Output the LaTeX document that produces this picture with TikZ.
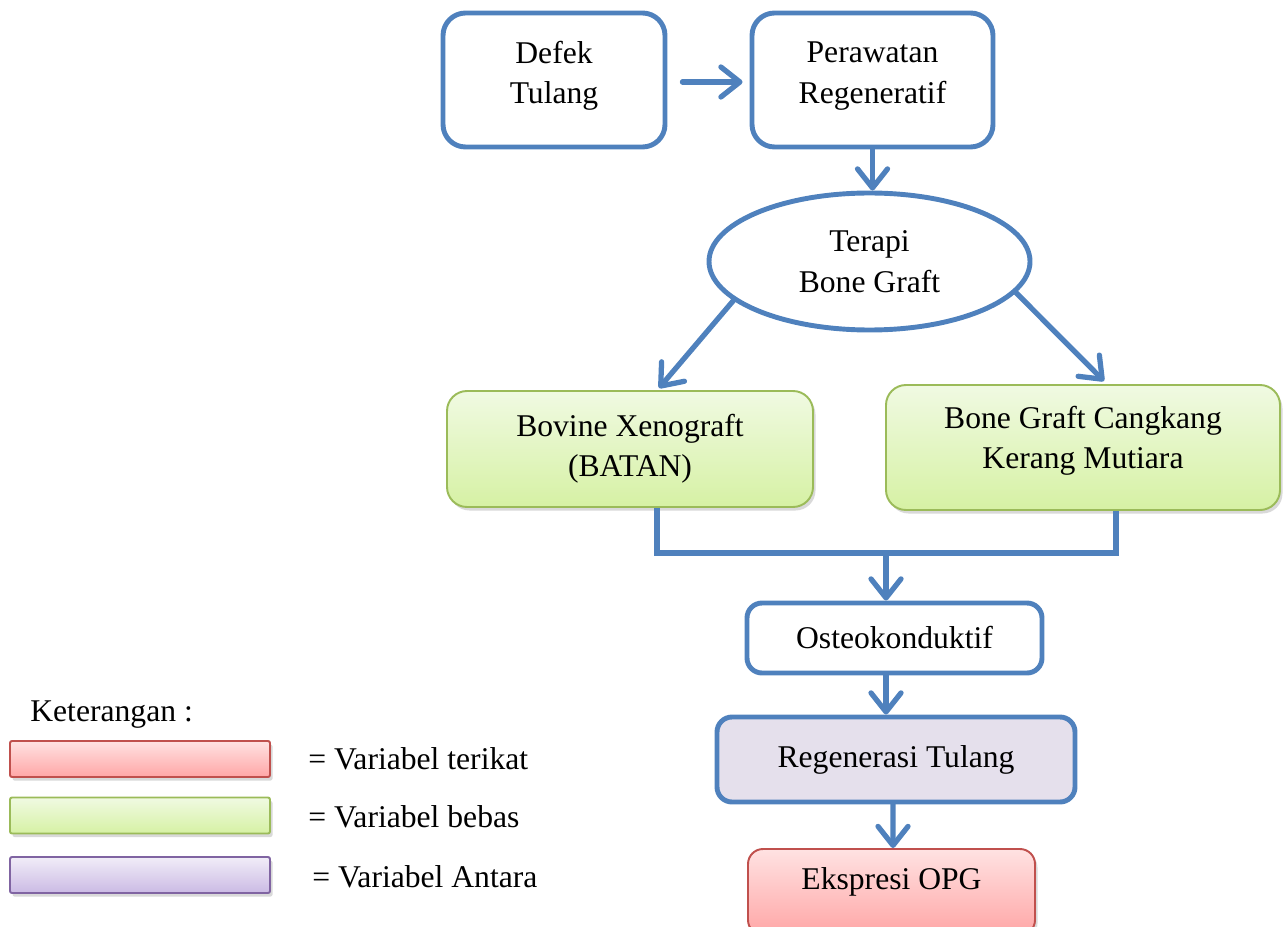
\documentclass[tikz,border=0pt]{standalone}
\usepackage{fontspec}
\setmainfont{Liberation Serif}
\usetikzlibrary{shapes.geometric,arrows.meta,shadows,calc}

\definecolor{birugaris}{RGB}{79,129,189}
\definecolor{hijaugaris}{RGB}{155,187,89}
\definecolor{hijauatas}{RGB}{240,250,226}
\definecolor{hijaubawah}{RGB}{214,241,164}
\definecolor{merahgaris}{RGB}{192,80,77}
\definecolor{merahatas}{RGB}{255,226,226}
\definecolor{merahbawah}{RGB}{255,166,166}
\definecolor{unguGaris}{RGB}{128,100,162}
\definecolor{unguatas}{RGB}{241,237,248}
\definecolor{ungubawah}{RGB}{203,186,228}
\definecolor{unguisi}{RGB}{229,224,236}

\begin{document}
\begin{tikzpicture}[
    font=\fontsize{18}{23}\selectfont,
    panah/.style={draw=birugaris, line width=3pt, line cap=round,
        -{Straight Barb[length=3.8mm,width=6mm,round]}},
    garis/.style={draw=birugaris, line width=3pt},
    kotakbiru/.style={draw=birugaris, line width=2.8pt, fill=white,
        rounded corners=0.45cm, align=center, inner sep=0pt},
    kotakhijau/.style={draw=hijaugaris, line width=1.1pt, rounded corners=0.4cm,
        top color=hijauatas, bottom color=hijaubawah, align=center, inner sep=0pt,
        drop shadow={shadow xshift=0.05cm, shadow yshift=-0.07cm, opacity=0.3}},
    kotakmerah/.style={draw=merahgaris, line width=1.1pt, rounded corners=0.3cm,
        top color=merahatas, bottom color=merahbawah, align=center, inner sep=0pt,
        drop shadow={shadow xshift=0.05cm, shadow yshift=-0.07cm, opacity=0.3}},
    ketbox/.style={line width=1.1pt, rounded corners=0.04cm, minimum width=5.2cm,
        minimum height=0.72cm, inner sep=0pt,
        drop shadow={shadow xshift=0.05cm, shadow yshift=-0.07cm, opacity=0.3}},
    ketteks/.style={anchor=west, inner sep=0pt}
]
    % Ukuran gambar
    \useasboundingbox (0,0) rectangle (25.7,-18.54);

    % Kotak-kotak alur utama
    \node[kotakbiru, minimum width=4.44cm, minimum height=2.68cm, text depth=0.3cm] (defek) at (11.08,-1.6) {Defek\\Tulang};
    \node[kotakbiru, minimum width=4.82cm, minimum height=2.68cm, text depth=0.3cm] (perawatan) at (17.45,-1.6) {Perawatan\\Regeneratif};
    \node[ellipse, draw=birugaris, line width=2.8pt, minimum width=6.42cm, minimum height=2.74cm,
        align=center, inner sep=0pt] (terapi) at (17.39,-5.23) {Terapi\\Bone Graft};
    \node[kotakhijau, minimum width=7.32cm, minimum height=2.32cm] (bovine) at (12.6,-8.98) {Bovine Xenograft\\(BATAN)};
    \node[kotakhijau, minimum width=7.88cm, minimum height=2.5cm, text depth=0.4cm] (kerang) at (21.66,-8.95) {Bone Graft Cangkang\\Kerang Mutiara};
    \node[kotakbiru, rounded corners=0.3cm, minimum width=5.9cm, minimum height=1.4cm] (osteo) at (17.89,-12.76) {Osteokonduktif};
    \node[kotakbiru, fill=unguisi, rounded corners=0.3cm, minimum width=7.16cm, minimum height=1.7cm] (regenerasi) at (17.92,-15.19) {Regenerasi Tulang};
    \node[kotakmerah, minimum width=5.74cm, minimum height=1.72cm, text height=0.45cm, text depth=0.55cm] (opg) at (17.83,-17.84) {Ekspresi OPG};

    % Panah penghubung
    \draw[panah] ($(defek.east)+(0.3,-0.04)$) -- ($(perawatan.west)+(-0.14,-0.04)$);
    \draw[panah] (perawatan.south) -- (perawatan.south |- terapi.north);
    \draw[panah] (terapi.196) -- ($(bovine.north)+(0.58,0.04)$);
    \draw[panah] (terapi.348) -- ($(kerang.north)+(0.42,0.06)$);

    % Garis gabungan ke Osteokonduktif
    \coordinate (gabung) at (17.72,-11.06);
    \draw[garis] ($(bovine.south)+(0.54,0)$) |- (gabung) -| ($(kerang.south)+(0.66,0)$);
    \draw[panah] (gabung) -- (gabung |- osteo.north);
    \draw[panah] (osteo.south -| gabung) -- (gabung |- regenerasi.north);
    \draw[panah] ($(regenerasi.south)+(-0.06,0)$) -- ($(opg.north)+(0.03,0)$);

    % Keterangan
    \node[ketteks] (ket) at (0.6,-14.3) {Keterangan :};
    \node[ketbox, draw=merahgaris, top color=merahatas, bottom color=merahbawah] (kmerah) at (2.8,-15.18) {};
    \node[ketbox, draw=hijaugaris, top color=hijauatas, bottom color=hijaubawah] (khijau) at (2.8,-16.31) {};
    \node[ketbox, draw=unguGaris, top color=unguatas, bottom color=ungubawah] (kungu) at (2.8,-17.5) {};
    \node[ketteks] (tmerah) at (6.16,-15.18) {= Variabel terikat};
    \node[ketteks] (thijau) at (6.16,-16.34) {= Variabel bebas};
    \node[ketteks] (tungu) at (6.24,-17.54) {= Variabel Antara};
\end{tikzpicture}
\end{document}
